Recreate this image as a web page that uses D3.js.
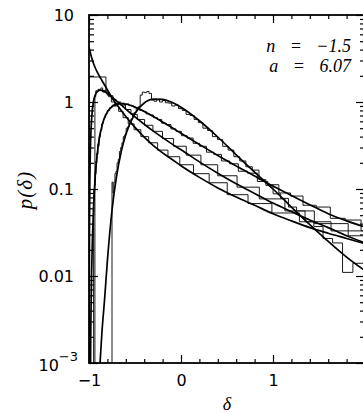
<!DOCTYPE html>
<html><head><meta charset="utf-8">
<script src="https://cdn.jsdelivr.net/npm/d3@7"></script>
<style>
body{margin:0;background:#fff}
svg{display:block}
</style>
</head><body>
<svg id="chart" width="363" height="413"></svg>
<script>
// ---------- data ----------
// smooth model curves: delta grid and p(delta)
const c1Delta = [-1,-0.98,-0.95,-0.9,-0.85,-0.8,-0.75,-0.7,-0.6,-0.5,-0.4,-0.3,-0.2,-0.1,0,0.2,0.4,0.6,0.8,1.0,1.2,1.4,1.6,1.8,2.0];
const c1P     = [4.3,3.5,2.75,2.1,1.7,1.38,1.12,0.94,0.68,0.51,0.395,0.315,0.26,0.22,0.185,0.136,0.103,0.081,0.065,0.052,0.043,0.036,0.031,0.027,0.0235];

const c2Delta = [-0.999,-0.995,-0.99,-0.98,-0.97,-0.95,-0.93,-0.9,-0.88,-0.85,-0.8,-0.75,-0.7,-0.6,-0.5,-0.4,-0.3,-0.2,-0.1,0,0.2,0.4,0.6,0.8,1.0,1.2,1.4,1.6,1.8,2.0];
const c2P     = [0.0004,0.036,0.145,0.42,0.67,1.03,1.22,1.35,1.37,1.35,1.255,1.14,1.03,0.83,0.674,0.555,0.462,0.389,0.33,0.283,0.205,0.152,0.115,0.089,0.069,0.055,0.044,0.036,0.029,0.024];

const c3Delta = [-0.99,-0.98,-0.97,-0.95,-0.93,-0.9,-0.85,-0.8,-0.75,-0.7,-0.65,-0.6,-0.5,-0.4,-0.3,-0.2,-0.1,0,0.2,0.4,0.6,0.8,1.0,1.2,1.4,1.6,1.8,2.0];
const c3P     = [0.0001,0.0028,0.0129,0.064,0.151,0.313,0.576,0.769,0.886,0.944,0.96,0.948,0.877,0.78,0.681,0.589,0.508,0.437,0.325,0.243,0.184,0.141,0.108,0.084,0.066,0.052,0.043,0.0365];

const c4Delta = [-0.9,-0.88,-0.86,-0.83,-0.8,-0.75,-0.7,-0.65,-0.6,-0.5,-0.4,-0.3,-0.2,-0.1,0,0.2,0.4,0.6,0.8,1.0,1.2,1.4,1.6,1.8,2.0];
const c4P     = [0.0004,0.001,0.0022,0.0055,0.015,0.057,0.141,0.267,0.422,0.741,0.975,1.08,1.074,0.991,0.87,0.609,0.396,0.247,0.156,0.1,0.062,0.039,0.025,0.0165,0.0115];

// N-body histograms: log bins in (1+delta)  [start of first log bin, ln step]
const h1Bins = [0.184, 0.14];   // plus one leading bin from delta = -1
const h1P = [1.94,1.3,1.15,1.0,0.9,0.78,0.66,0.56,0.48,0.4,0.34,0.28,0.235,0.19,0.15,0.118,0.086,0.068,0.053,0.042,0.033,0.028];

const h2Bins = [0.0643, 0.14];
const h2P = [1.15,1.35,1.3,1.4,1.37,1.45,1.3,1.37,1.2,1.18,1.05,1.0,0.92,0.82,0.72,0.63,0.54,0.46,0.38,0.31,0.245,0.19,0.142,0.105,0.077,0.056,0.04,0.029];

const h3Bins = [0.05, 0.06];
const h3P = [0.05,0.1,0.08,0.13,0.11,0.16,0.15,0.21,0.2,0.26,0.25,0.33,0.31,0.4,0.4,0.47,0.48,0.56,0.57,0.64,0.66,
             0.72,0.74,0.8,0.8,0.86,0.87,0.92,0.9,0.96,0.94,0.99,0.95,0.97,0.93,0.95,0.91,0.9,0.86,0.85,0.8,
             0.78,0.73,0.71,0.66,0.63,0.57,0.55,0.49,0.46,0.41,0.385,0.335,0.31,0.265,0.25,0.21,0.195,0.16,0.152,0.122,
             0.112,0.09,0.083,0.065,0.062,0.046,0.044,0.033];

const h4Bins = [0.25, 0.04];
const h4P = [0.12,0.09,0.12,0.15,0.16,0.2,0.22,0.27,0.3,0.34,
             0.4,0.42,0.5,0.52,0.6,0.64,0.74,0.76,0.86,0.88,
             1.2,1.3,1.28,1.32,1.25,1.05,1.02,1.06,1.0,1.04,
             0.98,0.97,0.9,0.92,0.84,0.8,0.72,0.7,0.63,0.58,
             0.5,0.47,0.4,0.37,0.31,0.28,0.235,0.21,0.18,0.165,
             0.128,0.11,0.088,0.078,0.062,0.056,0.042,0.037,0.027,0.024,
             0.011,0.014,0.009];

// axes
const xMajor = [-1,0,1,2];
const xMinor = [-0.8,-0.6,-0.4,-0.2,0.2,0.4,0.6,0.8,1.2,1.4,1.6,1.8];
const xLabels = {"-1":"\u22121","0":"0","1":"1"};
const yMajor = [1e-3,1e-2,1e-1,1,10];
const yLabels = ["10","0.01","0.1","1","10"];
const annotation = ["n = \u22121.5","a = 6.07"];

// ---------- drawing ----------
const svg = d3.select("#chart");
const L=89, R=365, T=15, B=363;
const x = d3.scaleLinear().domain([-1,2]).range([L,R]);
const y = d3.scaleLog().domain([1e-3,10]).range([B,T]);

const yMinor = [];
[1e-3,1e-2,1e-1,1].forEach(d=>{ for(let k=2;k<=9;k++) yMinor.push(d*k); });

svg.append("defs").append("clipPath").attr("id","clip")
  .append("rect").attr("x",L).attr("y",T).attr("width",R-L).attr("height",B-T);

const plot = svg.append("g").attr("clip-path","url(#clip)");

const FLOOR = 1e-4;
function histPoints(edges, vals){
  const pts = [[edges[0], FLOOR]];
  vals.forEach((v,i)=>{ pts.push([edges[i], Math.max(v,FLOOR)]); pts.push([edges[i+1], Math.max(v,FLOOR)]); });
  pts.push([edges[edges.length-1], FLOOR]);
  return pts;
}
function logEdges(bins, n){
  return d3.range(n+1).map(k => bins[0]*Math.exp(bins[1]*k) - 1);
}
const h1Edges = [-1].concat(logEdges(h1Bins, h1P.length-1));
const h2Edges = logEdges(h2Bins, h2P.length);
const h3Edges = logEdges(h3Bins, h3P.length);
const h4Edges = logEdges(h4Bins, h4P.length);

const line = d3.line().x(d=>x(d[0])).y(d=>y(d[1]));
[[h1Edges,h1P],[h2Edges,h2P],[h3Edges,h3P],[h4Edges,h4P]].forEach(([e,v])=>{
  plot.append("path").attr("d", line(histPoints(e,v)))
    .attr("fill","none").attr("stroke","#1a1a1a").attr("stroke-width",1);
});

const curveLine = d3.line().x(d=>x(d[0])).y(d=>y(Math.max(d[1],FLOOR))).curve(d3.curveMonotoneX);
[[c1Delta,c1P],[c2Delta,c2P],[c3Delta,c3P],[c4Delta,c4P]].forEach(([dx,p])=>{
  plot.append("path").attr("d", curveLine(dx.map((d,i)=>[d,p[i]])))
    .attr("fill","none").attr("stroke","#000").attr("stroke-width",1.7);
});

// axes
function styleAxis(g){
  g.select(".domain").remove();
  g.selectAll("line").attr("stroke","#000").attr("stroke-width",1.2);
}
const fontTick = "'DejaVu Sans', sans-serif";

svg.append("g").attr("transform",`translate(0,${B})`)
  .call(d3.axisBottom(x).tickValues(xMinor).tickSize(-4).tickFormat("")).call(styleAxis);
svg.append("g").attr("transform",`translate(0,${B})`)
  .call(d3.axisBottom(x).tickValues(xMajor).tickSize(-8).tickPadding(12)
    .tickFormat(d=>xLabels[String(d)]||"")).call(styleAxis)
  .selectAll("text").attr("font-family",fontTick).attr("font-size",16).attr("fill","#000");

svg.append("g").attr("transform",`translate(0,${T})`)
  .call(d3.axisTop(x).tickValues(xMinor).tickSize(-4).tickFormat("")).call(styleAxis);
svg.append("g").attr("transform",`translate(0,${T})`)
  .call(d3.axisTop(x).tickValues(xMajor).tickSize(-8).tickFormat("")).call(styleAxis);

svg.append("g").attr("transform",`translate(${L},0)`)
  .call(d3.axisLeft(y).tickValues(yMinor).tickSize(-5).tickFormat("")).call(styleAxis);
const yAx = svg.append("g").attr("transform",`translate(${L},0)`)
  .call(d3.axisLeft(y).tickValues(yMajor).tickSize(-9).tickPadding(15)
    .tickFormat((d,i)=>yLabels[i])).call(styleAxis);
yAx.selectAll("text").attr("font-family",fontTick).attr("font-size",16).attr("fill","#000");
// 10^-3 label with superscript
yAx.selectAll(".tick").filter(d=>d===1e-3).select("text")
  .attr("dx",4).attr("dy","0.45em")
  .call(t=>t.append("tspan").attr("font-size",13).attr("dy","-0.75em").text("\u22123"));

svg.append("g").attr("transform",`translate(${R},0)`)
  .call(d3.axisRight(y).tickValues(yMinor).tickSize(-5).tickFormat("")).call(styleAxis);
svg.append("g").attr("transform",`translate(${R},0)`)
  .call(d3.axisRight(y).tickValues(yMajor).tickSize(-9).tickFormat("")).call(styleAxis);

// frame
svg.append("rect").attr("x",L).attr("y",T).attr("width",R-L).attr("height",B-T)
  .attr("fill","none").attr("stroke","#000").attr("stroke-width",1.8);

// axis titles
const serif = "'Liberation Serif','Times New Roman',serif";
svg.append("text").attr("x",227).attr("y",410).attr("text-anchor","middle")
  .attr("font-family",serif).attr("font-style","italic").attr("font-size",18).text("\u03b4");
svg.append("text").attr("transform","translate(32,190) rotate(-90)").attr("text-anchor","middle")
  .attr("font-family",serif).attr("font-style","italic").attr("font-size",21)
  .attr("letter-spacing",1).text("p(\u03b4)");

// annotation
annotation.forEach((s,i)=>{
  svg.append("text").attr("x",351).attr("y",52+i*20).attr("text-anchor","end")
    .attr("font-family",serif).attr("font-style","italic").attr("font-size",18)
    .attr("word-spacing",10).text(s);
});
</script>
</body></html>
